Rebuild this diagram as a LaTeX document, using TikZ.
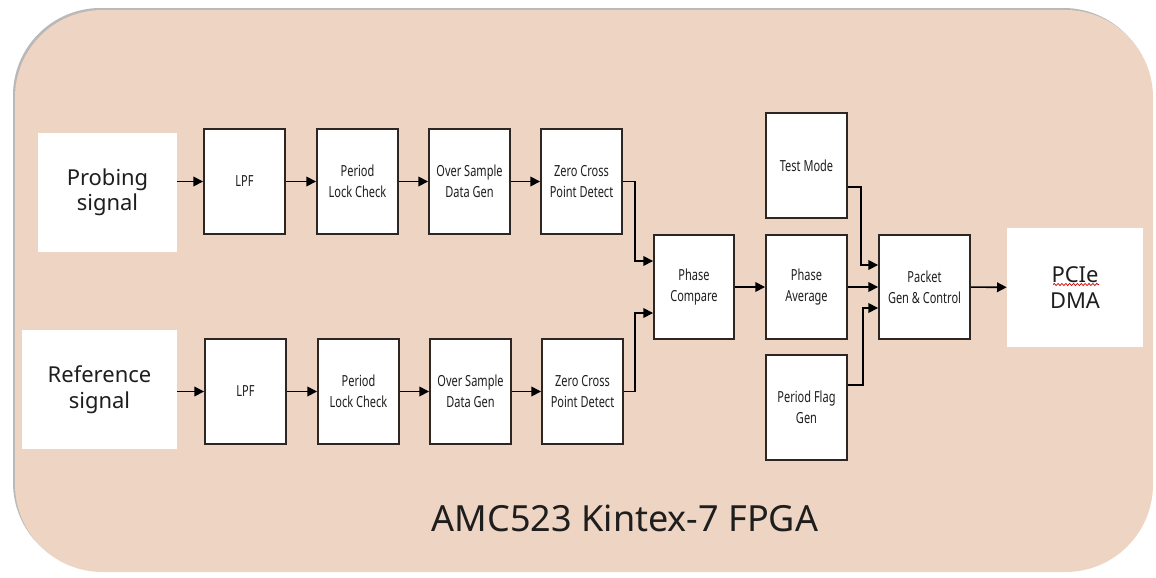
\documentclass[tikz,border=0pt]{standalone}
\usepackage{fontspec}
\setmainfont{Noto Sans}
\newfontfamily\narrowfont[FakeStretch=0.72]{Noto Sans}
\usetikzlibrary{arrows.meta,calc,decorations.pathmorphing}
\definecolor{bgpeach}{RGB}{238,213,195}
\definecolor{edgec}{RGB}{45,38,34}
\definecolor{txt}{RGB}{30,30,30}
\begin{document}
\begin{tikzpicture}[x=0.02cm,y=-0.02cm,
  blk/.style={draw=edgec,line width=1.1pt,fill=white,minimum width=1.62cm,minimum height=2.1cm,inner sep=1pt,align=center,text=txt,font=\narrowfont\fontsize{8.7}{12}\selectfont},
  io/.style={fill=white,minimum height=2.38cm,align=center,text=txt,font=\fontsize{12.5}{14.5}\selectfont},
  arr/.style={draw=black,line width=0.9pt,-{Triangle[length=5.5pt,width=5.5pt]}},
  ln/.style={draw=edgec,line width=0.85pt}]
\useasboundingbox (0,0) rectangle (1156,578);
% outer frame
\fill[gray!55,rounded corners=1.75cm] (13,8) rectangle (1151,570);
\fill[bgpeach,rounded corners=1.75cm] (15,10) rectangle (1153,572);
% input/output boxes
\node[io,minimum width=2.78cm] (prob) at (107.5,192.5) {Probing\\signal};
\node[io,minimum width=3.1cm] (ref) at (99.5,389.5) {Reference\\signal};
\node[io,minimum width=2.72cm] (pcie) at (1075,287.5) {PCIe\\DMA};
% top row
\node[blk] (lpf1) at (244.5,181.5) {LPF};
\node[blk] (plc1) at (357.5,181.5) {Period\\Lock Check};
\node[blk] (osd1) at (469.5,181.5) {Over Sample\\Data Gen};
\node[blk] (zcd1) at (581.5,181.5) {Zero Cross\\Point Detect};
% bottom row
\node[blk] (lpf2) at (245.5,391.5) {LPF};
\node[blk] (plc2) at (358.5,391.5) {Period\\Lock Check};
\node[blk] (osd2) at (470.5,391.5) {Over Sample\\Data Gen};
\node[blk] (zcd2) at (582.5,391.5) {Zero Cross\\Point Detect};
% middle
\node[blk,minimum width=1.6cm,minimum height=2.08cm] (pc) at (694,287) {Phase\\Compare};
\node[blk] (tm) at (806.5,165.5) {Test Mode};
\node[blk,minimum height=2.08cm] (pa) at (806.5,287) {Phase\\Average};
\node[blk] (pfg) at (806.5,407.5) {Period Flag\\Gen};
\node[blk,minimum width=1.82cm,minimum height=2.08cm] (pgc) at (924.5,287) {Packet\\Gen \& Control};
% label
\node[text=txt,font=\fontsize{20.5}{24}\selectfont] (title) at (625,518) {AMC523 Kintex-7 FPGA};
% spell-check squiggle under PCIe
\draw[red!80!black,line width=0.4pt,decorate,decoration={snake,amplitude=0.6pt,segment length=2.2pt}]
  ($(pcie.center)+(-22,-3)$) -- ($(pcie.center)+(24,-3)$);
% connectors
\draw[arr] (prob.east |- lpf1) -- (lpf1);
\draw[arr] (lpf1) -- (plc1);
\draw[arr] (plc1) -- (osd1);
\draw[arr] (osd1) -- (zcd1);
\draw[arr] (ref.east |- lpf2) -- (lpf2);
\draw[arr] (lpf2) -- (plc2);
\draw[arr] (plc2) -- (osd2);
\draw[arr] (osd2) -- (zcd2);
\coordinate (pcin1) at ($(pc.west)+(0,-26)$);
\coordinate (pcin2) at ($(pc.west)+(0,26)$);
\draw[arr] (zcd1.east) -- ++(12,0) |- (pcin1);
\draw[arr] (zcd2.east) -- ++(11,0) |- (pcin2);
\draw[arr] (pc) -- (pa);
\coordinate (tmout) at ($(tm.east)+(0,21.5)$);
\coordinate (pfgout) at ($(pfg.east)+(0,-22.5)$);
\coordinate (pgcin1) at ($(pgc.west)+(0,-22)$);
\coordinate (pgcin3) at ($(pgc.west)+(0,21)$);
\draw[arr] (tmout) -- ++(13,0) |- (pgcin1);
\draw[arr] (pa) -- (pgc);
\draw[arr] (pfgout) -- ++(15,0) |- (pgcin3);
\draw[arr] (pgc) -- (pcie);
\end{tikzpicture}
\end{document}
